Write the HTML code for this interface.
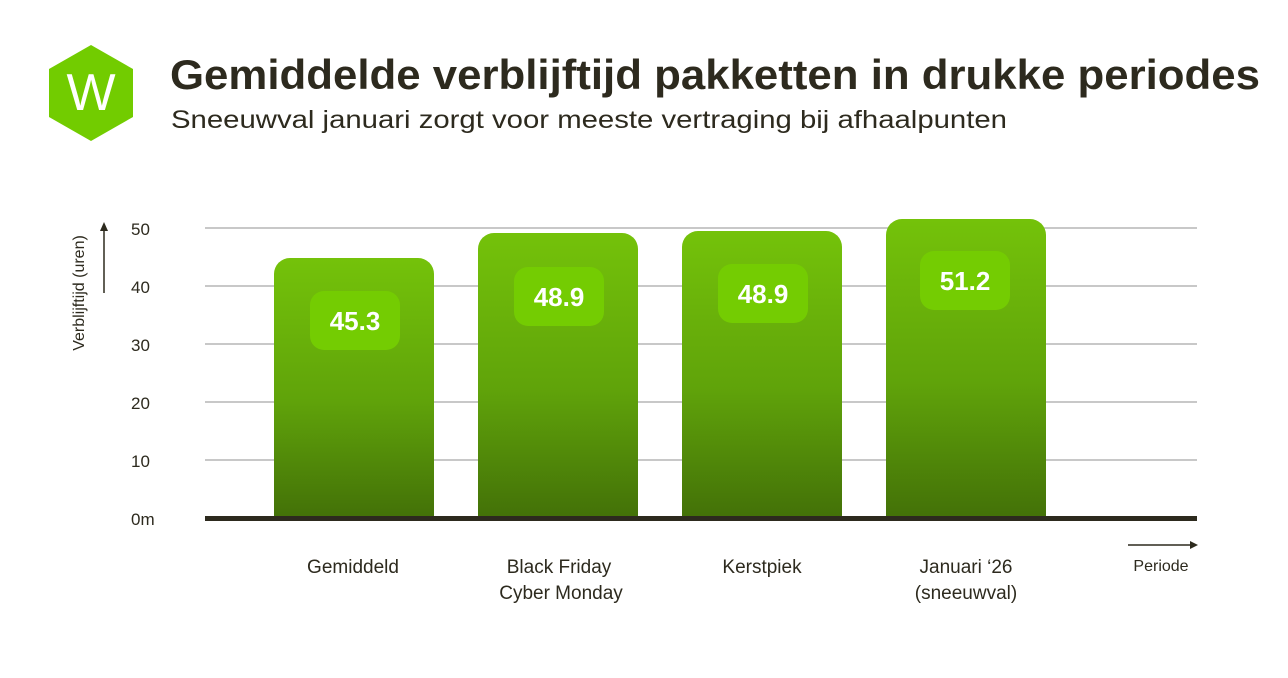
<!DOCTYPE html>
<html><head><meta charset="utf-8"><style>
body{margin:0;background:#fff;width:1288px;height:673px;overflow:hidden;font-family:"Liberation Sans",sans-serif;color:#2d2a1e}
</style></head><body>
<svg width="1288" height="673" xmlns="http://www.w3.org/2000/svg" font-family="Liberation Sans, sans-serif">
<defs><linearGradient id="g" x1="0" y1="0" x2="0" y2="1"><stop offset="0" stop-color="#74c20a"/><stop offset="0.55" stop-color="#60a30a"/><stop offset="1" stop-color="#437108"/></linearGradient></defs>
<polygon points="91,45 133,69 133,117 91,141 49,117 49,69" fill="#72cc00"/>
<text x="91" y="110" font-size="52" fill="#fff" text-anchor="middle">W</text>
<text x="170" y="89" font-size="42" font-weight="bold" fill="#2d2a1e" textLength="1090" lengthAdjust="spacingAndGlyphs">Gemiddelde verblijftijd pakketten in drukke periodes</text>
<text x="171" y="128" font-size="25" fill="#2d2a1e" textLength="836" lengthAdjust="spacingAndGlyphs">Sneeuwval januari zorgt voor meeste vertraging bij afhaalpunten</text>
<g stroke="#b5b5b5" stroke-width="1.5">
<line x1="205" y1="228" x2="1197" y2="228"/><line x1="205" y1="286" x2="1197" y2="286"/><line x1="205" y1="344" x2="1197" y2="344"/><line x1="205" y1="402" x2="1197" y2="402"/><line x1="205" y1="460" x2="1197" y2="460"/>
</g>
<g font-size="17" fill="#2d2a1e">
<text x="131" y="235">50</text><text x="131" y="293">40</text><text x="131" y="351">30</text><text x="131" y="409">20</text><text x="131" y="467">10</text><text x="131" y="525">0m</text>
</g>
<text transform="translate(84,293) rotate(-90)" font-size="16" text-anchor="middle" fill="#2d2a1e">Verblijftijd (uren)</text>
<line x1="104" y1="293" x2="104" y2="228" stroke="#2d2a1e" stroke-width="1.5"/><polygon points="104,222 100,231 108,231" fill="#2d2a1e"/>
<path d="M274,518V274a16,16 0 0 1 16,-16h128a16,16 0 0 1 16,16V518z" fill="url(#g)"/>
<path d="M478,518V249a16,16 0 0 1 16,-16h128a16,16 0 0 1 16,16V518z" fill="url(#g)"/>
<path d="M682,518V247a16,16 0 0 1 16,-16h128a16,16 0 0 1 16,16V518z" fill="url(#g)"/>
<path d="M886,518V235a16,16 0 0 1 16,-16h128a16,16 0 0 1 16,16V518z" fill="url(#g)"/>
<g fill="#74cc02">
<rect x="310" y="291" width="90" height="59" rx="14"/><rect x="514" y="267" width="90" height="59" rx="14"/><rect x="718" y="264" width="90" height="59" rx="14"/><rect x="920" y="251" width="90" height="59" rx="14"/>
</g>
<g font-size="26" font-weight="bold" fill="#fff" text-anchor="middle">
<text x="355" y="330">45.3</text><text x="559" y="306">48.9</text><text x="763" y="303">48.9</text><text x="965" y="290">51.2</text>
</g>
<rect x="205" y="516" width="992" height="5" fill="#2d2a1e"/>
<g font-size="19" fill="#2d2a1e" text-anchor="middle">
<text x="353" y="573">Gemiddeld</text>
<text x="559" y="573">Black Friday</text><text x="561" y="599">Cyber Monday</text>
<text x="762" y="573">Kerstpiek</text>
<text x="966" y="573">Januari ‘26</text><text x="966" y="599">(sneeuwval)</text>
</g>
<line x1="1128" y1="545" x2="1192" y2="545" stroke="#2d2a1e" stroke-width="1.5"/><polygon points="1198,545 1190,541 1190,549" fill="#2d2a1e"/>
<text x="1161" y="571" font-size="16" text-anchor="middle" fill="#2d2a1e">Periode</text>
</svg>
</body></html>
